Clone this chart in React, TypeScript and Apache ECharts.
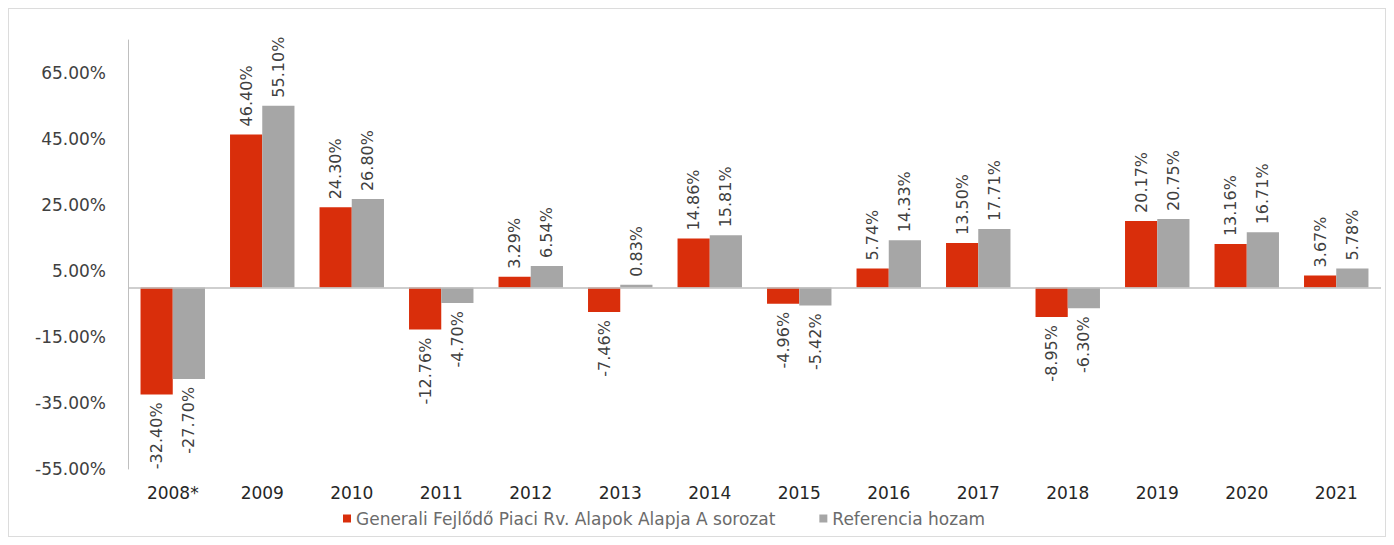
import React, { useEffect, useRef } from "react";
import * as echarts from "echarts";

const categories = ["2008*", "2009", "2010", "2011", "2012", "2013", "2014", "2015", "2016", "2017", "2018", "2019", "2020", "2021"];
const fundName = "Generali Fejlődő Piaci Rv. Alapok Alapja A sorozat";
const refName = "Referencia hozam";
const fundValues = [-32.4, 46.4, 24.3, -12.76, 3.29, -7.46, 14.86, -4.96, 5.74, 13.5, -8.95, 20.17, 13.16, 3.67];
const refValues = [-27.7, 55.1, 26.8, -4.7, 6.54, 0.83, 15.81, -5.42, 14.33, 17.71, -6.3, 20.75, 16.71, 5.78];

const FONT = "DejaVu Sans, Liberation Sans, Arial, sans-serif";

function makeData(values: number[]) {
  return values.map((v) => ({
    value: v,
    label: v >= 0
      ? { position: "top", rotate: 90, align: "left", verticalAlign: "middle", distance: 8 }
      : { position: "bottom", rotate: 90, align: "right", verticalAlign: "middle", distance: 8 },
  }));
}

export default function App() {
  const ref = useRef<HTMLDivElement>(null);
  useEffect(() => {
    if (!ref.current) return;
    const chart = echarts.init(ref.current, undefined, { renderer: "svg" });
    const labelCommon = {
      show: true,
      color: "#404040",
      fontSize: 16,
      fontFamily: FONT,
      formatter: (p: any) => Number(p.value).toFixed(2) + "%",
    };
    chart.setOption({
      animation: false,
      backgroundColor: "#ffffff",
      textStyle: { fontFamily: FONT },
      grid: { left: 119, right: 4, top: 31, bottom: 67 },
      legend: {
        bottom: 4,
        left: 329,
        itemWidth: 8,
        itemHeight: 8,
        itemGap: 44,
        icon: "rect",
        textStyle: { color: "#6b6b6b", fontSize: 17, fontFamily: FONT },
        data: [fundName, refName],
      },
      xAxis: {
        type: "category",
        data: categories,
        axisLine: { show: false },
        axisTick: { show: false },
        axisLabel: { color: "#262626", fontSize: 17, fontFamily: FONT, margin: 15 },
      },
      yAxis: {
        type: "value",
        min: -55,
        max: 75,
        interval: 20,
        axisLine: { show: true, lineStyle: { color: "#bfbfbf", width: 1 } },
        axisTick: { show: false },
        splitLine: { show: false },
        axisLabel: {
          color: "#404040",
          fontSize: 17,
          fontFamily: FONT,
          margin: 22,
          showMaxLabel: false,
          formatter: (v: number) => (v > 70 ? "" : v.toFixed(2) + "%"),
        },
      },
      series: [
        {
          name: fundName,
          type: "bar",
          data: makeData(fundValues),
          itemStyle: { color: "#d92e0b" },
          barGap: "0%",
          barCategoryGap: "28%",
          label: labelCommon,
          markLine: {
            silent: true,
            symbol: ["none", "none"],
            label: { show: false },
            lineStyle: { color: "#bfbfbf", type: "solid", width: 1.5 },
            data: [{ yAxis: 0 }],
          },
        },
        {
          name: refName,
          type: "bar",
          data: makeData(refValues),
          itemStyle: { color: "#a6a6a6" },
          barGap: "0%",
          barCategoryGap: "28%",
          label: labelCommon,
        },
      ],
    });
    return () => chart.dispose();
  }, []);
  return (
    <div
      ref={ref}
      style={{ width: 1378, height: 529, border: "1px solid #dcdcdc", boxSizing: "border-box" }}
    />
  );
}
